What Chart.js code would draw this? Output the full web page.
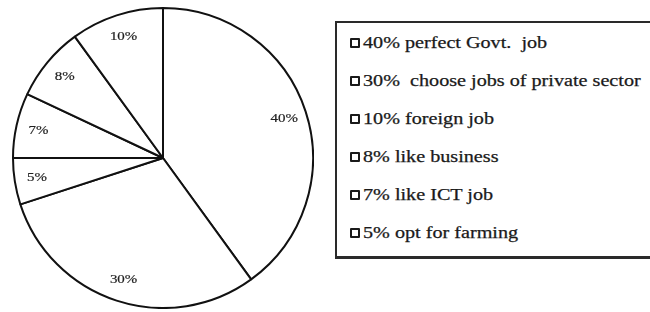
<!DOCTYPE html>
<html>
<head>
<meta charset="utf-8">
<script src="https://cdn.jsdelivr.net/npm/chart.js@4"></script>
<style>
  html, body { margin: 0; padding: 0; background: #fff; }
  body { width: 650px; height: 312px; position: relative; overflow: hidden; font-family: "Liberation Serif", "Times New Roman", serif; }
  #pieBox { position: absolute; left: 12px; top: 7px; width: 302px; height: 302px; }
  #legend { position: absolute; left: 335px; top: 21px; width: 330px; height: 238px; border: 2px solid #2a2a2a; border-bottom-width: 3px; box-sizing: border-box; }
  .row { position: absolute; left: 13px; height: 20px; display: flex; align-items: center; }
  .mark { width: 6px; height: 6px; border: 2.5px solid #1a1a1a; border-radius: 1px; background: #fff; flex: none; }
  .txt { margin-left: 3px; font-size: 16px; color: #1a1a1a; white-space: pre; -webkit-text-stroke: 0.25px #1a1a1a; transform: scaleX(1.26); transform-origin: left center; }
</style>
</head>
<body>
<div id="pieBox"><canvas id="myChart"></canvas></div>
<div id="legend"></div>
<script>
// slices in drawing order, clockwise from 12 o'clock
const sliceLabels = ['40%', '30%', '5%', '7%', '8%', '10%'];
const sliceValues = [40, 30, 5, 7, 8, 10];
// legend text, as printed in the box
const legendItems = [
  '40% perfect Govt.  job',
  '30%  choose jobs of private sector',
  '10% foreign job',
  '8% like business',
  '7% like ICT job',
  '5% opt for farming'
];

const legend = document.getElementById('legend');
legendItems.forEach((t, i) => {
  const row = document.createElement('div');
  row.className = 'row';
  row.style.top = (10 + i * 38) + 'px';
  row.innerHTML = '<span class="mark"></span><span class="txt"></span>';
  row.querySelector('.txt').textContent = t;
  legend.appendChild(row);
});

// draws the % text inside each slice
const sliceText = {
  id: 'sliceText',
  afterDatasetsDraw(chart) {
    const c = chart.ctx;
    const meta = chart.getDatasetMeta(0);
    meta.data.forEach((arc, i) => {
      const mid = (arc.startAngle + arc.endAngle) / 2;
      const r = arc.outerRadius * 0.85;
      const x = arc.x + Math.cos(mid) * r;
      const y = arc.y + Math.sin(mid) * r;
      c.save();
      c.translate(x, y);
      c.scale(1.15, 1);
      c.font = '13px "Liberation Serif", serif';
      c.fillStyle = '#222';
      c.strokeStyle = '#222';
      c.lineWidth = 0.2;
      c.textAlign = 'center';
      c.textBaseline = 'middle';
      c.fillText(sliceLabels[i], 0, 0);
      c.strokeText(sliceLabels[i], 0, 0);
      c.restore();
    });
  }
};

const ctx = document.getElementById('myChart');
new Chart(ctx, {
  type: 'pie',
  data: {
    labels: sliceLabels,
    datasets: [{
      data: sliceValues,
      backgroundColor: '#fff',
      borderColor: '#111',
      borderWidth: 2
    }]
  },
  options: {
    responsive: true,
    maintainAspectRatio: false,
    animation: false,
    plugins: {
      legend: { display: false },
      tooltip: { enabled: false }
    }
  },
  plugins: [sliceText]
});
</script>
</body>
</html>
